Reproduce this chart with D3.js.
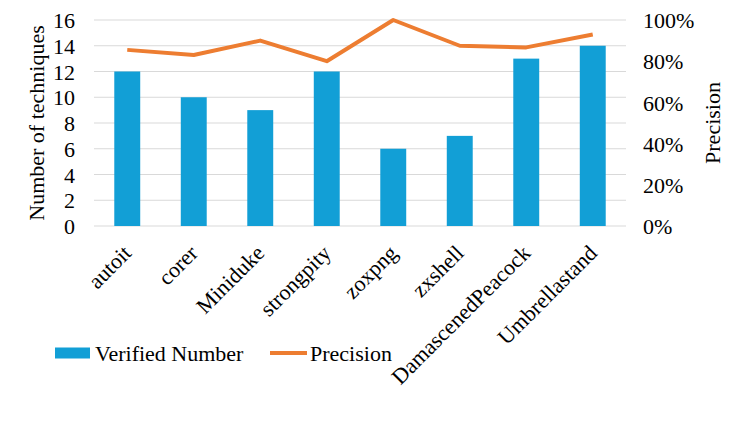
<!DOCTYPE html>
<html>
<head>
<meta charset="utf-8">
<script src="https://d3js.org/d3.v7.min.js"></script>
<style>
  body { margin: 0; background: #fff; }
  text { font-family: "Liberation Serif", "Times New Roman", serif; fill: #000; }
</style>
</head>
<body>
<div id="chart"></div>
<script>
// data
var families = ["autoit", "corer", "Miniduke", "strongpity", "zoxpng", "zxshell", "DamascenedPeacock", "Umbrellastand"];
var verified = [12, 10, 9, 12, 6, 7, 13, 14];
var precision = [0.855, 0.83, 0.90, 0.80, 1.00, 0.875, 0.867, 0.93];
var leftTicks = [0, 2, 4, 6, 8, 10, 12, 14, 16];
var rightTicks = [0, 0.2, 0.4, 0.6, 0.8, 1.0];

const W = 747, H = 446;
const plot = { left: 94, right: 626, top: 20, bottom: 226 };
const FS = "22px";

var svg = d3.select("#chart").append("svg")
  .attr("width", W).attr("height", H);

var x = d3.scaleBand().domain(families)
  .range([plot.left, plot.right]).paddingInner(0.61).paddingOuter(0.305);
var yL = d3.scaleLinear().domain([0, 16]).range([plot.bottom, plot.top]);
var yR = d3.scaleLinear().domain([0, 1]).range([plot.bottom, plot.top]);

// gridlines
svg.append("g").selectAll("line").data(leftTicks).enter().append("line")
  .attr("x1", plot.left).attr("x2", plot.right)
  .attr("y1", d => yL(d)).attr("y2", d => yL(d))
  .attr("stroke", "#d9d9d9").attr("stroke-width", 1);

// left axis
var axL = svg.append("g").attr("transform", "translate(" + plot.left + ",0)")
  .call(d3.axisLeft(yL).tickValues(leftTicks).tickSize(0).tickPadding(19));
axL.select(".domain").remove();
axL.selectAll("text").style("font-size", FS).attr("dy", "0.35em");

// right axis
var axR = svg.append("g").attr("transform", "translate(" + plot.right + ",0)")
  .call(d3.axisRight(yR).tickValues(rightTicks).tickFormat(d3.format(".0%")).tickSize(0).tickPadding(17));
axR.select(".domain").remove();
axR.selectAll("text").style("font-size", FS).attr("dy", "0.35em");

// bars
svg.append("g").selectAll("rect").data(families).enter().append("rect")
  .attr("x", d => x(d))
  .attr("width", x.bandwidth())
  .attr("y", (d, i) => yL(verified[i]))
  .attr("height", (d, i) => yL(0) - yL(verified[i]))
  .attr("fill", "#129fd6");

// precision line
var line = d3.line()
  .x(d => x(d.f) + x.bandwidth() / 2)
  .y(d => yR(d.p));
svg.append("path")
  .datum(families.map((f, i) => ({ f: f, p: precision[i] })))
  .attr("d", line)
  .attr("fill", "none")
  .attr("stroke", "#ed7d31")
  .attr("stroke-width", 4)
  .attr("stroke-linejoin", "round");

// category labels, rotated
svg.append("g").selectAll("text").data(families).enter().append("text")
  .attr("transform", d => "translate(" + (x(d) + x.bandwidth() / 2) + "," + (plot.bottom + 23) + ") rotate(-45)")
  .attr("text-anchor", "end")
  .attr("dy", "0.35em")
  .style("font-size", FS)
  .text(d => d);

// axis titles
svg.append("text")
  .attr("transform", "translate(36," + ((plot.top + plot.bottom) / 2) + ") rotate(-90)")
  .attr("text-anchor", "middle").attr("dy", "0.35em")
  .style("font-size", FS)
  .text("Number of techniques");

svg.append("text")
  .attr("transform", "translate(712," + ((plot.top + plot.bottom) / 2) + ") rotate(-90)")
  .attr("text-anchor", "middle").attr("dy", "0.35em")
  .style("font-size", FS)
  .text("Precision");

// legend
var lg = svg.append("g").attr("transform", "translate(55,353)");
lg.append("rect").attr("x", 0).attr("y", -5.5).attr("width", 35).attr("height", 11).attr("fill", "#129fd6");
lg.append("text").attr("x", 40).attr("dy", "0.35em").style("font-size", FS).text("Verified Number");
lg.append("line").attr("x1", 215).attr("x2", 252).attr("y1", 0).attr("y2", 0)
  .attr("stroke", "#ed7d31").attr("stroke-width", 4);
lg.append("text").attr("x", 255).attr("dy", "0.35em").style("font-size", FS).text("Precision");
</script>
</body>
</html>
